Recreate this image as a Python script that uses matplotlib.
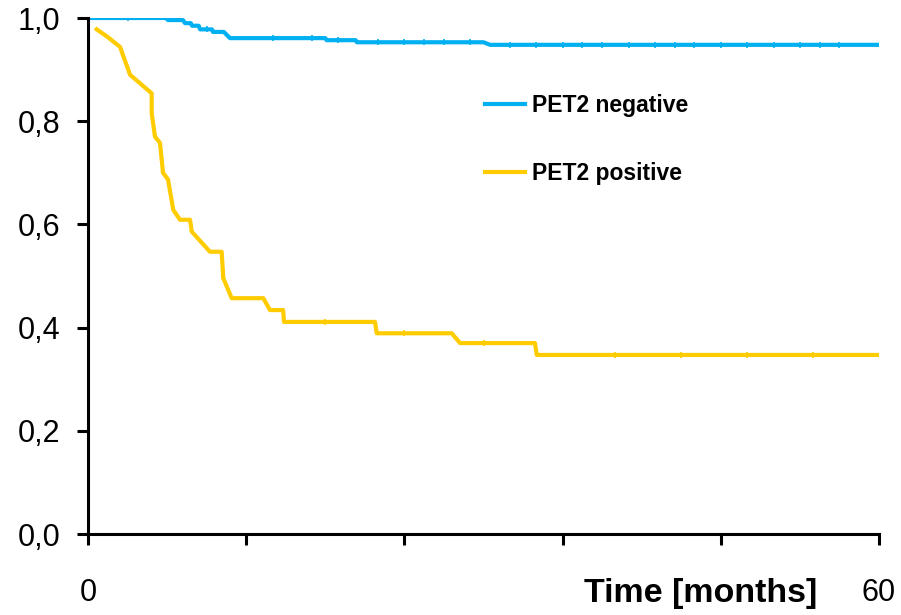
import numpy as np
import matplotlib
matplotlib.use("Agg")
import matplotlib.pyplot as plt
from matplotlib.ticker import FuncFormatter

plt.rcParams['font.family'] = ['Liberation Sans', 'DejaVu Sans']

# Kaplan-Meier curve vertices (time in months, survival)
neg_times = [0, 5.9, 6.07, 7.2, 7.36, 7.8, 7.89, 8.4, 8.5, 9.4, 9.48, 10.3, 10.77,
             18.0, 18.1, 20.3, 20.4, 30.0, 30.5, 60]
neg_surv = [1.0, 1.0, 0.996, 0.996, 0.990, 0.990, 0.985, 0.985, 0.978, 0.978, 0.973,
            0.973, 0.961, 0.961, 0.957, 0.957, 0.953, 0.953, 0.948, 0.948]
neg_censor = [3, 9, 14, 17, 19, 22, 24, 25.5, 27, 29, 32, 34, 36, 37.5, 39, 41, 43,
              44.5, 46, 48, 50, 52, 54, 55.5, 57]

pos_times = [0.66, 1.5, 2.43, 3.19, 4.83, 4.83, 5.08, 5.46, 5.69, 6.07, 6.47, 6.98,
             7.74, 7.87, 9.25, 10.14, 10.26, 10.9, 13.3, 13.8, 14.8, 14.87, 21.77, 21.9,
             27.59, 28.22, 33.9, 34.04, 60]
pos_surv = [0.978, 0.963, 0.944, 0.890, 0.854, 0.816, 0.770, 0.758, 0.700, 0.687, 0.628,
            0.609, 0.609, 0.586, 0.547, 0.547, 0.496, 0.457, 0.457, 0.434, 0.434, 0.411,
            0.411, 0.389, 0.389, 0.370, 0.370, 0.347, 0.347]
pos_censor = [18, 24, 30, 40, 45, 50, 55]

series_labels = ["PET2 negative", "PET2 positive"]
colors = ["#00B0F0", "#FFCC00"]

x_ticks = [0, 12, 24, 36, 48, 60]
x_ticklabels = ["0", "", "", "", "", "60"]
y_ticks = [0.0, 0.2, 0.4, 0.6, 0.8, 1.0]


def surv_at(times, surv, t):
    return np.interp(t, times, surv)


fig = plt.figure(figsize=(9.01, 6.15), dpi=100)
ax = fig.add_axes([88 / 901, 1 - 534 / 615, (879 - 88) / 901, (534 - 18) / 615])

lw = 3.0
l1, = ax.plot(neg_times, neg_surv, color=colors[0], lw=lw, label=series_labels[0])
l2, = ax.plot(pos_times, pos_surv, color=colors[1], lw=lw, label=series_labels[1])
ax.plot(neg_censor, surv_at(neg_times, neg_surv, neg_censor), ls='none', marker='|',
        ms=4, mew=1.2, color=colors[0])
ax.plot(pos_censor, surv_at(pos_times, pos_surv, pos_censor), ls='none', marker='|',
        ms=4, mew=1.2, color=colors[1])

ax.set_xlim(0, 60)
ax.set_ylim(0, 1.0)
for s in ['top', 'right']:
    ax.spines[s].set_visible(False)
for s in ['left', 'bottom']:
    ax.spines[s].set_linewidth(2.2)
    ax.spines[s].set_color('black')
    ax.spines[s].set_zorder(5)

ax.set_xticks(x_ticks)
ax.set_xticklabels(x_ticklabels)
ax.set_yticks(y_ticks)
ax.yaxis.set_major_formatter(FuncFormatter(lambda v, p: f"{v:.1f}".replace('.', ',')))
ax.tick_params(axis='y', direction='out', length=8, width=2.2, labelsize=22, pad=12)
ax.tick_params(axis='x', direction='out', length=8, width=2.2, labelsize=22, pad=24)

ax.text((817 - 88) / (879 - 88), -0.1318, "Time [months]", transform=ax.transAxes,
        ha='right', va='baseline', fontsize=24.5, fontweight='bold')

ax.legend(handles=[l1, l2], loc='upper left',
          bbox_to_anchor=(485 / 901, 1 - 94 / 615), bbox_transform=fig.transFigure,
          frameon=False, prop={'weight': 'bold', 'size': 16.5},
          handlelength=1.75, handletextpad=0.3, labelspacing=1.95,
          borderpad=0, borderaxespad=0)

fig.savefig("out.png", dpi=100)
